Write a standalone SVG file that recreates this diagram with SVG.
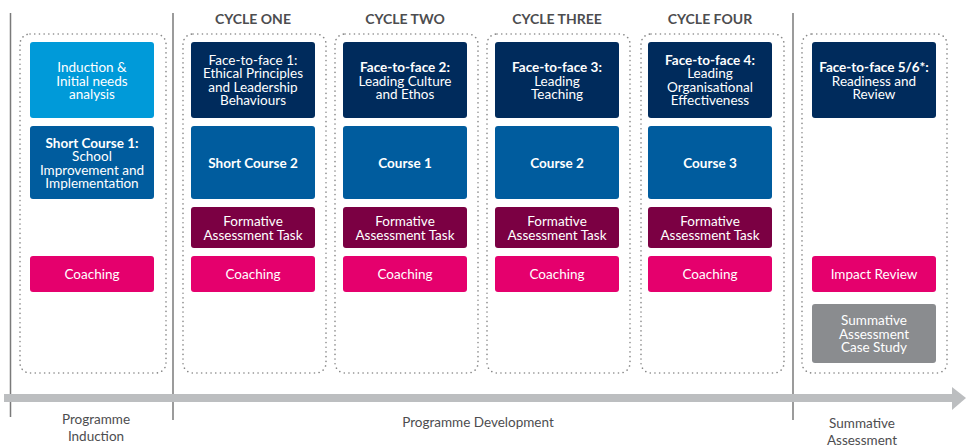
<svg xmlns="http://www.w3.org/2000/svg" width="966" height="447" viewBox="0 0 966 447">
<style>
text{font-family:Lato,"Liberation Sans",sans-serif;}
.h{font-size:14px;font-weight:bold;fill:#4d4d4f;text-anchor:middle;}
.f{font-size:13.5px;fill:#4d4d4f;text-anchor:middle;}
.t{font-size:13.5px;fill:#fff;text-anchor:middle;}
.b{font-weight:bold;}
.c{fill:none;stroke:#8a8a8a;stroke-width:1.6;stroke-dasharray:0.1 4.6;stroke-linecap:round;}
.sep{stroke:#7a7a7a;stroke-width:1.5;}
.lb{fill:#009ad9;}
.mb{fill:#005c9e;}
.nv{fill:#002b5c;}
.mr{fill:#7b0043;}
.pk{fill:#e5006d;}
.gy{fill:#8a8c8f;}
</style>
<g id="frame">
<line class="sep" x1="10.5" y1="13" x2="10.5" y2="417"/>
<line class="sep" x1="173" y1="13" x2="173" y2="420"/>
<line class="sep" x1="793" y1="13" x2="793" y2="420"/>
<rect class="c" x="20" y="34" width="146" height="339" rx="10"/>
<rect class="c" x="183" y="34" width="143" height="339" rx="10"/>
<rect class="c" x="335" y="34" width="143" height="339" rx="10"/>
<rect class="c" x="487" y="34" width="143" height="339" rx="10"/>
<rect class="c" x="641" y="34" width="143" height="339" rx="10"/>
<rect class="c" x="802" y="34" width="145" height="339" rx="10"/>
<text class="h" x="253" y="24">CYCLE ONE</text>
<text class="h" x="405" y="24">CYCLE TWO</text>
<text class="h" x="557" y="24">CYCLE THREE</text>
<text class="h" x="710" y="24">CYCLE FOUR</text>
</g>
<g id="connectors">
<rect x="4" y="394" width="948" height="8" fill="#bcbec0"/>
<polygon points="952,387 966,398 952,410" fill="#bcbec0"/>
</g>
<g id="induction">
<rect class="lb" x="30" y="42" width="124" height="76" rx="3"/>
<text class="t" x="92" y="72.2">Induction &amp;</text>
<text class="t" x="92" y="85.7">Initial needs</text>
<text class="t" x="92" y="99.2">analysis</text>
</g>
<g id="short-course-1">
<rect class="mb" x="30" y="126" width="124" height="73" rx="3"/>
<text class="t b" x="92" y="147.9">Short Course 1:</text>
<text class="t" x="92" y="161.4">School</text>
<text class="t" x="92" y="174.9">Improvement and</text>
<text class="t" x="92" y="188.4">Implementation</text>
</g>
<g id="coaching-0">
<rect class="pk" x="30" y="256" width="124" height="36" rx="3"/>
<text class="t" x="92" y="278.7">Coaching</text>
</g>
<g id="ftf-1">
<rect class="nv" x="191" y="42" width="124" height="76" rx="3"/>
<text class="t" x="253" y="64.7">Face-to-face 1:</text>
<text class="t" x="253" y="78.2">Ethical Principles</text>
<text class="t" x="253" y="91.7">and Leadership</text>
<text class="t" x="253" y="105.2">Behaviours</text>
</g>
<g id="short-course-2">
<rect class="mb" x="191" y="126" width="124" height="73" rx="3"/>
<text class="t b" x="253" y="167.7">Short Course 2</text>
</g>
<g id="fat-1">
<rect class="mr" x="191" y="207" width="124" height="41" rx="3"/>
<text class="t" x="253" y="226">Formative</text>
<text class="t" x="253" y="239.5">Assessment Task</text>
</g>
<g id="coaching-1">
<rect class="pk" x="191" y="256" width="124" height="36" rx="3"/>
<text class="t" x="253" y="278.7">Coaching</text>
</g>
<g id="ftf-2">
<rect class="nv" x="343" y="42" width="124" height="76" rx="3"/>
<text class="t b" x="405" y="72.2">Face-to-face 2:</text>
<text class="t" x="405" y="85.7">Leading Culture</text>
<text class="t" x="405" y="99.2">and Ethos</text>
</g>
<g id="course-1">
<rect class="mb" x="343" y="126" width="124" height="73" rx="3"/>
<text class="t b" x="405" y="167.7">Course 1</text>
</g>
<g id="fat-2">
<rect class="mr" x="343" y="207" width="124" height="41" rx="3"/>
<text class="t" x="405" y="226">Formative</text>
<text class="t" x="405" y="239.5">Assessment Task</text>
</g>
<g id="coaching-2">
<rect class="pk" x="343" y="256" width="124" height="36" rx="3"/>
<text class="t" x="405" y="278.7">Coaching</text>
</g>
<g id="ftf-3">
<rect class="nv" x="495" y="42" width="124" height="76" rx="3"/>
<text class="t b" x="557" y="72.2">Face-to-face 3:</text>
<text class="t" x="557" y="85.7">Leading</text>
<text class="t" x="557" y="99.2">Teaching</text>
</g>
<g id="course-2">
<rect class="mb" x="495" y="126" width="124" height="73" rx="3"/>
<text class="t b" x="557" y="167.7">Course 2</text>
</g>
<g id="fat-3">
<rect class="mr" x="495" y="207" width="124" height="41" rx="3"/>
<text class="t" x="557" y="226">Formative</text>
<text class="t" x="557" y="239.5">Assessment Task</text>
</g>
<g id="coaching-3">
<rect class="pk" x="495" y="256" width="124" height="36" rx="3"/>
<text class="t" x="557" y="278.7">Coaching</text>
</g>
<g id="ftf-4">
<rect class="nv" x="648" y="42" width="124" height="76" rx="3"/>
<text class="t b" x="710" y="64.7">Face-to-face 4:</text>
<text class="t" x="710" y="78.2">Leading</text>
<text class="t" x="710" y="91.7">Organisational</text>
<text class="t" x="710" y="105.2">Effectiveness</text>
</g>
<g id="course-3">
<rect class="mb" x="648" y="126" width="124" height="73" rx="3"/>
<text class="t b" x="710" y="167.7">Course 3</text>
</g>
<g id="fat-4">
<rect class="mr" x="648" y="207" width="124" height="41" rx="3"/>
<text class="t" x="710" y="226">Formative</text>
<text class="t" x="710" y="239.5">Assessment Task</text>
</g>
<g id="coaching-4">
<rect class="pk" x="648" y="256" width="124" height="36" rx="3"/>
<text class="t" x="710" y="278.7">Coaching</text>
</g>
<g id="ftf-5">
<rect class="nv" x="812" y="42" width="124" height="76" rx="3"/>
<text class="t b" x="874" y="72.2">Face-to-face 5/6*:</text>
<text class="t" x="874" y="85.7">Readiness and</text>
<text class="t" x="874" y="99.2">Review</text>
</g>
<g id="impact-review">
<rect class="pk" x="812" y="256" width="124" height="36" rx="3"/>
<text class="t" x="874" y="278.7">Impact Review</text>
</g>
<g id="summative-case-study">
<rect class="gy" x="812" y="304" width="124" height="59" rx="3"/>
<text class="t" x="874" y="325.1">Summative</text>
<text class="t" x="874" y="338.6">Assessment</text>
<text class="t" x="874" y="352.1">Case Study</text>
</g>
<g id="phase-labels">
<text class="f" x="96" y="423.5">Programme</text>
<text class="f" x="96" y="440.5">Induction</text>
<text class="f" x="478" y="426.5">Programme Development</text>
<text class="f" x="862" y="427.5">Summative</text>
<text class="f" x="862" y="444.5">Assessment</text>
</g>
</svg>
